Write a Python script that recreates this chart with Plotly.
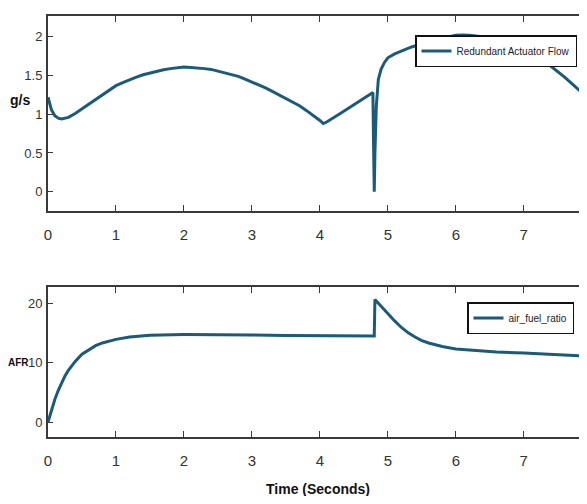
import plotly.graph_objects as go

# ---- data ----
flow_t = [0, 0.05, 0.1, 0.15, 0.2, 0.3, 0.4, 0.5, 0.6, 0.7, 0.8, 0.9, 1.0, 1.1, 1.2, 1.3, 1.4,
          1.5, 1.6, 1.7, 1.8, 1.9, 2.0, 2.1, 2.2, 2.3, 2.4, 2.5, 2.6, 2.7, 2.8, 2.9, 3.0, 3.1,
          3.2, 3.3, 3.4, 3.5, 3.6, 3.7, 3.8, 3.9, 4.0, 4.05, 4.1, 4.3, 4.5, 4.7,
          4.78, 4.79, 4.80, 4.81, 4.83, 4.86, 4.9, 4.95, 5.0, 5.1, 5.2, 5.35, 5.5, 5.65, 5.8,
          6.0, 6.1, 6.2, 6.35, 6.5, 6.65, 6.8, 7.0, 7.2, 7.4, 7.6, 7.8, 7.93]
flow_v = [1.22, 1.06, 0.98, 0.95, 0.94, 0.96, 1.01, 1.07, 1.13, 1.20, 1.26, 1.32, 1.37, 1.41,
          1.45, 1.48, 1.51, 1.535, 1.56, 1.575, 1.59, 1.60, 1.61, 1.605, 1.60, 1.59, 1.58, 1.56,
          1.54, 1.515, 1.49, 1.455, 1.42, 1.38, 1.34, 1.295, 1.25, 1.205, 1.16, 1.11, 1.05,
          0.99, 0.92, 0.88, 0.90, 1.01, 1.12, 1.23,
          1.28, 0.60, 0.0, 0.50, 1.10, 1.45, 1.58, 1.67, 1.73, 1.78, 1.82, 1.87, 1.91, 1.95, 1.98,
          2.02, 2.025, 2.02, 2.005, 1.98, 1.945, 1.90, 1.83, 1.73, 1.62, 1.48, 1.33, 1.22]

afr_t = [0, 0.05, 0.1, 0.15, 0.2, 0.25, 0.3, 0.4, 0.5, 0.6, 0.7, 0.8, 0.9, 1.0, 1.2, 1.5, 2.0,
         2.5, 3.0, 3.5, 4.0, 4.5, 4.80, 4.81, 4.85, 4.9, 4.95, 5.0, 5.1, 5.2, 5.3, 5.4, 5.5,
         5.6, 5.7, 5.8, 6.0, 6.3, 6.6, 7.0, 7.5, 7.93]
afr_v = [0, 2.0, 3.8, 5.3, 6.6, 7.75, 8.7, 10.2, 11.4, 12.2, 12.85, 13.3, 13.65, 13.9, 14.3,
         14.6, 14.7, 14.7, 14.65, 14.55, 14.5, 14.45, 14.45, 20.6, 20.1, 19.5, 18.85, 18.2, 17.0,
         15.9, 15.0, 14.3, 13.7, 13.3, 13.0, 12.7, 12.3, 12.0, 11.8, 11.6, 11.4, 11.1]

x_ticks = [0, 1, 2, 3, 4, 5, 6, 7]
flow_ticks = [0, 0.5, 1, 1.5, 2]
flow_tick_text = ["0", "0.5", "1", "1.5", "2"]
afr_ticks = [0, 10, 20]
afr_tick_text = ["0", "10", "20"]

flow_name = "Redundant Actuator Flow"
afr_name = "air_fuel_ratio"

# ---- figure ----
# the page body adds an 8px margin and the visible area ends ~8px early on the right,
# so the figure is sized/placed to compensate
OFF = 8
VIS_R = 579
W, H = VIS_R - OFF, 504 - 2 * OFF
L, R, T = 48 - OFF, 0, 16 - OFF
B = H - (437 - OFF)
plot_h = H - T - B
plot_w = W - L - R
X_MAX = 7.93 * (VIS_R - 48) / (587 - 48)
def py(p):
    return (H - B - (p - OFF)) / plot_h
def px(p):
    return ((p - OFF) - L) / plot_w

FONT = "Liberation Sans Narrow, Arial Narrow, Liberation Sans, Arial, sans-serif"
LINE_C = "#1b5a78"
AX_C = "#3a3a3a"
TXT_C = "#333333"

fig = go.Figure()
fig.add_trace(go.Scatter(x=flow_t, y=flow_v, mode="lines", name=flow_name,
                         line=dict(color=LINE_C, width=3), xaxis="x", yaxis="y",
                         legend="legend"))
fig.add_trace(go.Scatter(x=afr_t, y=afr_v, mode="lines", name=afr_name,
                         line=dict(color=LINE_C, width=3), xaxis="x2", yaxis="y2",
                         legend="legend2"))

xcommon = dict(range=[0, X_MAX], tickvals=x_ticks, ticks="inside", ticklen=6, tickwidth=1,
               tickcolor=AX_C, showline=True, linecolor=AX_C, linewidth=2, mirror="ticks",
               showgrid=False, zeroline=False, automargin=False,
               tickfont=dict(family=FONT, size=15, color=TXT_C), ticklabelstandoff=9)
ycommon = dict(ticks="inside", ticklen=5, tickwidth=1, tickcolor=AX_C, showline=True,
               linecolor=AX_C, linewidth=2, showgrid=False, zeroline=False, automargin=False,
               tickfont=dict(family=FONT, size=13, color=TXT_C), ticklabelstandoff=1)

legend_common = dict(xanchor="right", yanchor="top", bgcolor="white", bordercolor="#111111",
                     borderwidth=1.5, font=dict(family=FONT, size=10, color="#222222"),
                     itemwidth=30)

fig.update_layout(
    width=W, height=H,
    margin=dict(l=L, r=R, t=T, b=B, autoexpand=False),
    paper_bgcolor="white", plot_bgcolor="white",
    xaxis=dict(**xcommon, anchor="y"),
    yaxis=dict(**ycommon, domain=[py(211), 1], range=[-0.25, 2.27], anchor="x",
               tickvals=flow_ticks, ticktext=flow_tick_text),
    xaxis2=dict(**xcommon, anchor="y2"),
    yaxis2=dict(**ycommon, domain=[0, py(287)], range=[-2.5, 22.7], anchor="x2",
                tickvals=afr_ticks, ticktext=afr_tick_text),
    legend=dict(**legend_common, x=px(577), y=py(35)),
    legend2=dict(**legend_common, x=px(574), y=py(302)),
    showlegend=True,
    annotations=[
        dict(text="<b>g/s</b>", x=px(20), y=py(100), xref="paper", yref="paper",
             xanchor="center", yanchor="middle", showarrow=False,
             font=dict(family=FONT, size=14, color="#111111")),
        dict(text="<b>AFR</b>", x=px(18.5), y=py(362), xref="paper", yref="paper",
             xanchor="center", yanchor="middle", showarrow=False,
             font=dict(family=FONT, size=10, color="#111111")),
        dict(text="<b>Time (Seconds)</b>", x=px(318), y=py(489), xref="paper", yref="paper",
             xanchor="center", yanchor="middle", showarrow=False,
             font=dict(family=FONT, size=14, color="#111111")),
    ],
)

fig.write_html("out.html")
